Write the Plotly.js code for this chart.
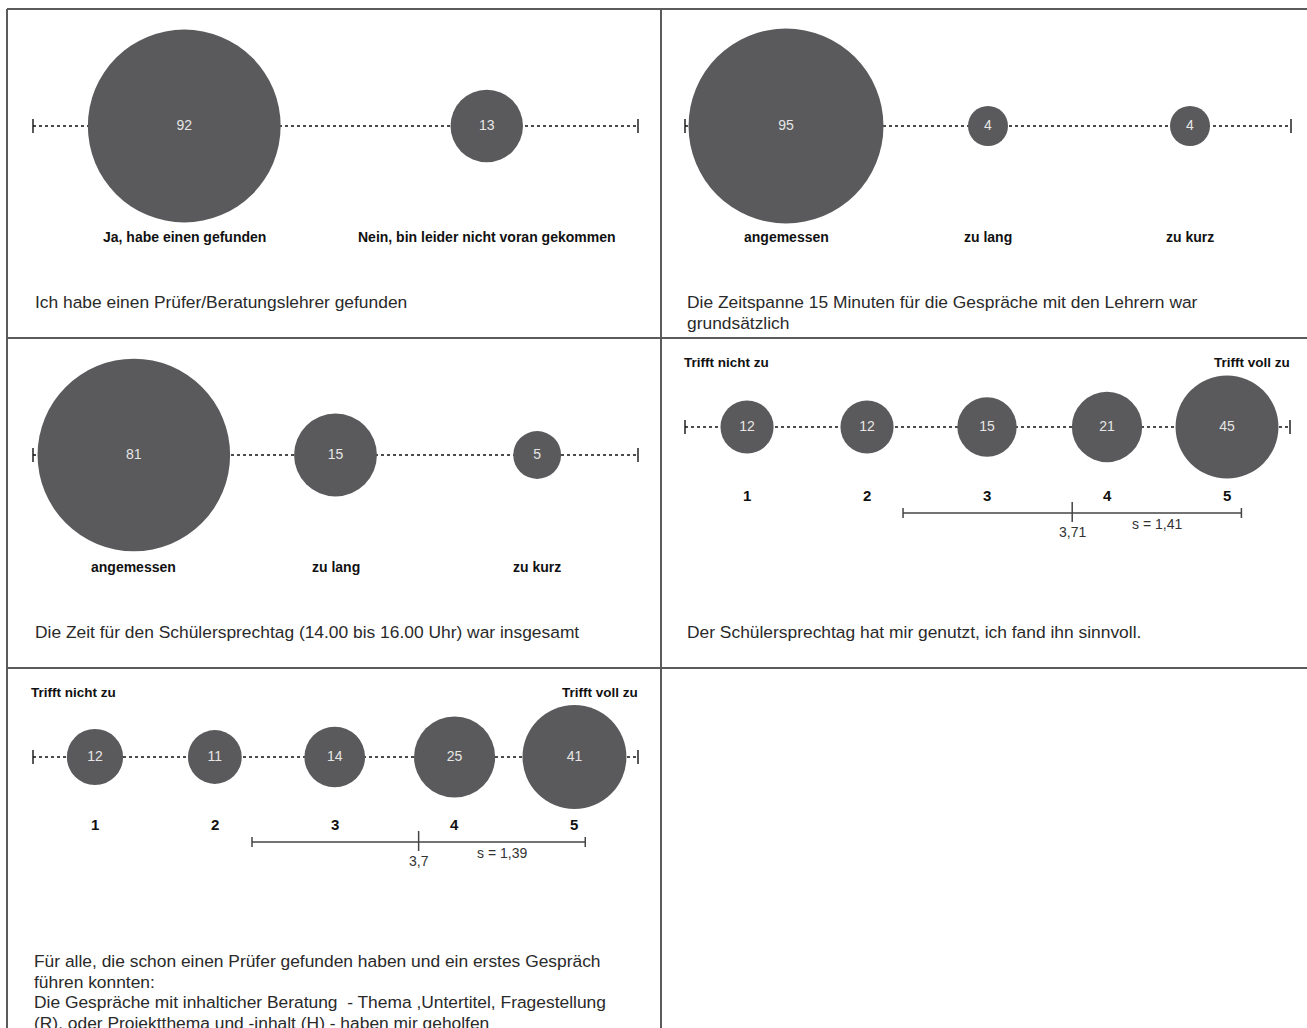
<!DOCTYPE html>
<html>
<head>
<meta charset="utf-8">
<script src="https://cdn.plot.ly/plotly-3.0.1.min.js"></script>
<style>html,body{margin:0;padding:0;background:#fff;}#chart{width:1307px;height:1028px;}</style>
</head>
<body>
<div id="chart"></div>
<script>
// ---------- DATA ----------
const p1Labels = ["Ja, habe einen gefunden", "Nein, bin leider nicht voran gekommen"];
const p1Values = [92, 13];
const p1Caption = ["Ich habe einen Prüfer/Beratungslehrer gefunden"];

const p2Labels = ["angemessen", "zu lang", "zu kurz"];
const p2Values = [95, 4, 4];
const p2Caption = ["Die Zeitspanne 15 Minuten für die Gespräche mit den Lehrern war", "grundsätzlich"];

const p3Labels = ["angemessen", "zu lang", "zu kurz"];
const p3Values = [81, 15, 5];
const p3Caption = ["Die Zeit für den Schülersprechtag (14.00 bis 16.00 Uhr) war insgesamt"];

const scaleLabels = ["1", "2", "3", "4", "5"];
const scaleEnds = ["Trifft nicht zu", "Trifft voll zu"];

const p4Values = [12, 12, 15, 21, 45];
const p4Mean = 3.71;
const p4Sd = 1.41;
const p4Caption = ["Der Schülersprechtag hat mir genutzt, ich fand ihn sinnvoll."];

const p5Values = [12, 11, 14, 25, 41];
const p5Mean = 3.7;
const p5Sd = 1.39;
const p5Caption = [
  "Für alle, die schon einen Prüfer gefunden haben und ein erstes Gespräch",
  "führen konnten:",
  "Die Gespräche mit inhalticher Beratung  - Thema ,Untertitel, Fragestellung",
  "(R), oder Projektthema und -inhalt (H) - haben mir geholfen"
];

// ---------- LAYOUT ----------
const W = 1307, H = 1028;
const px = v => v / W;
const py = v => 1 - v / H;

const BUBBLE = '#5a5a5c';
const TEXT_FONT = 'Liberation Sans, Arial, sans-serif';

const panels = [
  {values: p1Values, labels: p1Labels, pos: [1, 3], range: [0, 4], x0: 33, x1: 638, lineY: 126, labelY: 237, sizeref: 0.00495,
   caption: p1Caption, capX: 33, capY: 302},
  {values: p2Values, labels: p2Labels, pos: [1, 3, 5], range: [0, 6], x0: 685, x1: 1291, lineY: 126, labelY: 237, sizeref: 0.005,
   caption: p2Caption, capX: 685, capY: 302},
  {values: p3Values, labels: p3Labels, pos: [1, 3, 5], range: [0, 6], x0: 33, x1: 638, lineY: 455, labelY: 567, sizeref: 0.00437,
   caption: p3Caption, capX: 33, capY: 632},
  {values: p4Values, labels: scaleLabels, pos: [1, 2, 3, 4, 5], range: [0.483, 5.525], x0: 685, x1: 1290, lineY: 427, labelY: 495, sizeref: 0.0085,
   caption: p4Caption, capX: 685, capY: 632, mean: p4Mean, sd: p4Sd, barY: 513, endsY: 362, endsL: 682, endsR: 1292, bold: true},
  {values: p5Values, labels: scaleLabels, pos: [1, 2, 3, 4, 5], range: [0.483, 5.53], x0: 33, x1: 638, lineY: 757, labelY: 824, sizeref: 0.0076,
   caption: p5Caption, capX: 32, capY: 961, mean: p5Mean, sd: p5Sd, barY: 842, endsY: 692, endsL: 29, endsR: 640, bold: true}
];

const data = [];
const shapes = [];
const annotations = [];
const layout = {
  width: W, height: H,
  margin: {l: 0, r: 0, t: 0, b: 0},
  paper_bgcolor: '#ffffff', plot_bgcolor: 'rgba(0,0,0,0)',
  showlegend: false,
  shapes: shapes, annotations: annotations
};

// Frame lines
const frameColor = '#5b5b5b';
[[7, 9, 1307, 9], [7, 338, 1307, 338], [7, 668, 1307, 668], [7, 9, 7, 1028], [661, 9, 661, 1028]].forEach(([a, b, c, d]) => {
  shapes.push({type: 'line', xref: 'paper', yref: 'paper', x0: px(a), y0: py(b), x1: px(c), y1: py(d),
    line: {color: frameColor, width: 2}});
});

panels.forEach((p, i) => {
  const n = i + 1;
  const xa = n === 1 ? 'x' : 'x' + n;
  const ya = n === 1 ? 'y' : 'y' + n;
  const xKey = n === 1 ? 'xaxis' : 'xaxis' + n;
  const yKey = n === 1 ? 'yaxis' : 'yaxis' + n;
  layout[xKey] = {domain: [px(p.x0), px(p.x1)], range: p.range, visible: false, fixedrange: true};
  layout[yKey] = {domain: [py(p.lineY + 100), py(p.lineY - 100)], range: [-1, 1], visible: false, fixedrange: true};

  // dotted axis line
  shapes.push({type: 'line', xref: xa, yref: ya, x0: p.range[0], x1: p.range[1], y0: 0, y1: 0, layer: 'below',
    line: {color: '#111', width: 1.5, dash: 'dot'}});
  // end ticks
  [p.x0, p.x1].forEach(xp => {
    shapes.push({type: 'line', xref: 'paper', yref: 'paper', x0: px(xp), x1: px(xp), y0: py(p.lineY - 7), y1: py(p.lineY + 7), layer: 'below',
      line: {color: '#222', width: 1.5}});
  });

  data.push({
    type: 'scatter', mode: 'markers+text', xaxis: xa, yaxis: ya,
    x: p.pos, y: p.pos.map(() => 0),
    text: p.values.map(String), textposition: 'middle center',
    textfont: {family: TEXT_FONT, size: 14, color: '#e6e6e6'},
    marker: {size: p.values, sizemode: 'area', sizeref: p.sizeref, color: BUBBLE, opacity: 1, line: {width: 0}},
    opacity: 1,
    cliponaxis: false, hoverinfo: 'skip'
  });

  // category labels
  p.labels.forEach((lab, k) => {
    annotations.push({xref: xa, yref: 'paper', x: p.pos[k], y: py(p.labelY), text: lab, showarrow: false,
      xanchor: 'center', yanchor: 'middle',
      font: {family: TEXT_FONT, size: p.bold ? 15 : 14, color: '#111', weight: 'bold'}});
  });

  // captions
  p.caption.forEach((line, k) => {
    annotations.push({xref: 'paper', yref: 'paper', x: px(p.capX), y: py(p.capY + k * 20.7), text: line, showarrow: false,
      xanchor: 'left', yanchor: 'middle', font: {family: TEXT_FONT, size: 17.4, color: '#2a2a2a'}});
  });

  if (p.mean !== undefined) {
    // scale end labels
    annotations.push({xref: 'paper', yref: 'paper', x: px(p.endsL), y: py(p.endsY), text: scaleEnds[0], showarrow: false,
      xanchor: 'left', yanchor: 'middle', font: {family: TEXT_FONT, size: 13.5, color: '#111', weight: 'bold'}});
    annotations.push({xref: 'paper', yref: 'paper', x: px(p.endsR), y: py(p.endsY), text: scaleEnds[1], showarrow: false,
      xanchor: 'right', yanchor: 'middle', font: {family: TEXT_FONT, size: 13.5, color: '#111', weight: 'bold'}});
    const lo = p.mean - p.sd, hi = p.mean + p.sd;
    const barCol = '#444';
    shapes.push({type: 'line', xref: xa, yref: 'paper', x0: lo, x1: hi, y0: py(p.barY), y1: py(p.barY), line: {color: barCol, width: 1.5}});
    [lo, hi].forEach(v => shapes.push({type: 'line', xref: xa, yref: 'paper', x0: v, x1: v, y0: py(p.barY - 5), y1: py(p.barY + 5), line: {color: barCol, width: 1.5}}));
    shapes.push({type: 'line', xref: xa, yref: 'paper', x0: p.mean, x1: p.mean, y0: py(p.barY - 11), y1: py(p.barY + 9), line: {color: barCol, width: 1.5}});
    annotations.push({xref: xa, yref: 'paper', x: p.mean, y: py(p.barY + 19), text: String(p.mean).replace('.', ','), showarrow: false,
      xanchor: 'center', yanchor: 'middle', font: {family: TEXT_FONT, size: 14, color: '#333'}});
    annotations.push({xref: xa, yref: 'paper', x: p.mean + p.sd / 2, y: py(p.barY + 11), text: 's = ' + String(p.sd).replace('.', ','), showarrow: false,
      xanchor: 'center', yanchor: 'middle', font: {family: TEXT_FONT, size: 14, color: '#333'}});
  }
});

Plotly.newPlot('chart', data, layout, {staticPlot: true, displayModeBar: false});
</script>
</body>
</html>
